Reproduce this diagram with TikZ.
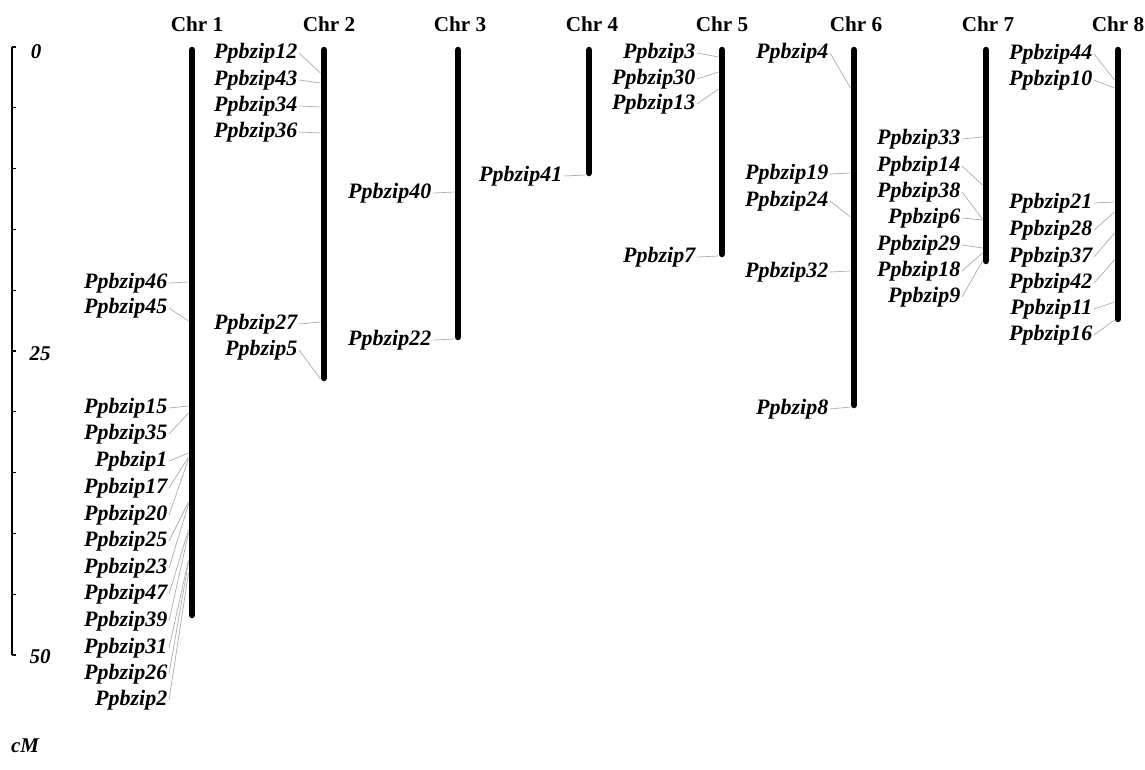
\documentclass[tikz,border=0pt]{standalone}
\usepackage{fontspec}
\setmainfont{Liberation Serif}
\begin{document}
\begin{tikzpicture}[x=1pt,y=-1pt,
  chrbar/.style={line width=6.5pt,line cap=round,black},
  chrlabel/.style={font=\bfseries\fontsize{21.2}{22}\selectfont,inner sep=0pt},
  gene/.style={font=\bfseries\itshape\fontsize{22}{22}\selectfont,inner ysep=0pt,inner xsep=1.5pt,anchor=east},
  conn/.style={draw=black!32,line width=0.7pt},
  scalelbl/.style={font=\bfseries\itshape\fontsize{21}{21}\selectfont,inner sep=0pt}]
\useasboundingbox (0,0) rectangle (1145,769);
\fill[white] (0,0) rectangle (1145,769);

% scale bar in cM
\draw[line width=1.8pt] (12,47) -- (12,655);
\foreach \i in {0,...,10} \draw[line width=1.3pt] (12,47+60.8*\i) -- ++(3.5,0);
\node[scalelbl] (s0) at (36,52) {0};
\node[scalelbl] (s25) at (40,354) {25};
\node[scalelbl] (s50) at (40,657) {50};
\node[scalelbl] (cm) at (25,746) {cM};

% chromosome headers
\node[chrlabel] (h1) at (197,24) {Chr 1};
\node[chrlabel] (h2) at (329,24) {Chr 2};
\node[chrlabel] (h3) at (460,24) {Chr 3};
\node[chrlabel] (h4) at (592,24) {Chr 4};
\node[chrlabel] (h5) at (722,24) {Chr 5};
\node[chrlabel] (h6) at (856,24) {Chr 6};
\node[chrlabel] (h7) at (988,24) {Chr 7};
\node[chrlabel] (h8) at (1118,24) {Chr 8};

% chromosome bars
\draw[chrbar] (192,50) -- (192,615);
\draw[chrbar] (324,50) -- (324,378);
\draw[chrbar] (458,50) -- (458,337);
\draw[chrbar] (589,50) -- (589,173);
\draw[chrbar] (722,50) -- (722,254);
\draw[chrbar] (854,50) -- (854,405);
\draw[chrbar] (986,50) -- (986,261);
\draw[chrbar] (1118,50) -- (1118,319);

% genes: name / label y / attachment y on the bar
\foreach \g/\ly/\by in {46/283/282,45/308/321,15/408/406,35/434/413,1/461/453,
  17/488/457,20/515/459,25/541/502,23/568/504,47/594/530,39/621/533,
  31/648/560,26/674/562,2/700/573}{
  \node[gene] (g\g) at (169,\ly) {Ppbzip\g};
  \coordinate (b\g) at (188.5,\by);
  \draw[conn] (g\g.east) -- (b\g);
}
\foreach \g/\ly/\by in {12/53/73,43/80/83,34/106/107,36/132/133,27/324/322,5/350/379}{
  \node[gene] (g\g) at (299,\ly) {Ppbzip\g};
  \coordinate (b\g) at (320.5,\by);
  \draw[conn] (g\g.east) -- (b\g);
}
\foreach \g/\ly/\by in {40/193/192,22/340/339}{
  \node[gene] (g\g) at (433,\ly) {Ppbzip\g};
  \coordinate (b\g) at (454.5,\by);
  \draw[conn] (g\g.east) -- (b\g);
}
\foreach \g/\ly/\by in {41/176/175}{
  \node[gene] (g\g) at (564,\ly) {Ppbzip\g};
  \coordinate (b\g) at (585.5,\by);
  \draw[conn] (g\g.east) -- (b\g);
}
\foreach \g/\ly/\by in {3/53/57,30/79/72,13/104/89,7/257/256}{
  \node[gene] (g\g) at (697,\ly) {Ppbzip\g};
  \coordinate (b\g) at (718.5,\by);
  \draw[conn] (g\g.east) -- (b\g);
}
\foreach \g/\ly/\by in {4/53/88,19/174/173,24/201/217,32/272/271,8/409/407}{
  \node[gene] (g\g) at (830,\ly) {Ppbzip\g};
  \coordinate (b\g) at (850.5,\by);
  \draw[conn] (g\g.east) -- (b\g);
}
\foreach \g/\ly/\by in {33/139/137,14/166/185,38/192/219,6/218/220,29/245/248,18/271/253,9/297/261}{
  \node[gene] (g\g) at (962,\ly) {Ppbzip\g};
  \coordinate (b\g) at (982.5,\by);
  \draw[conn] (g\g.east) -- (b\g);
}
\foreach \g/\ly/\by in {44/54/80,10/80/88,21/203/202,28/230/212,37/257/233,42/283/260,11/309/302,16/335/320}{
  \node[gene] (g\g) at (1094,\ly) {Ppbzip\g};
  \coordinate (b\g) at (1114.5,\by);
  \draw[conn] (g\g.east) -- (b\g);
}
\end{tikzpicture}
\end{document}
